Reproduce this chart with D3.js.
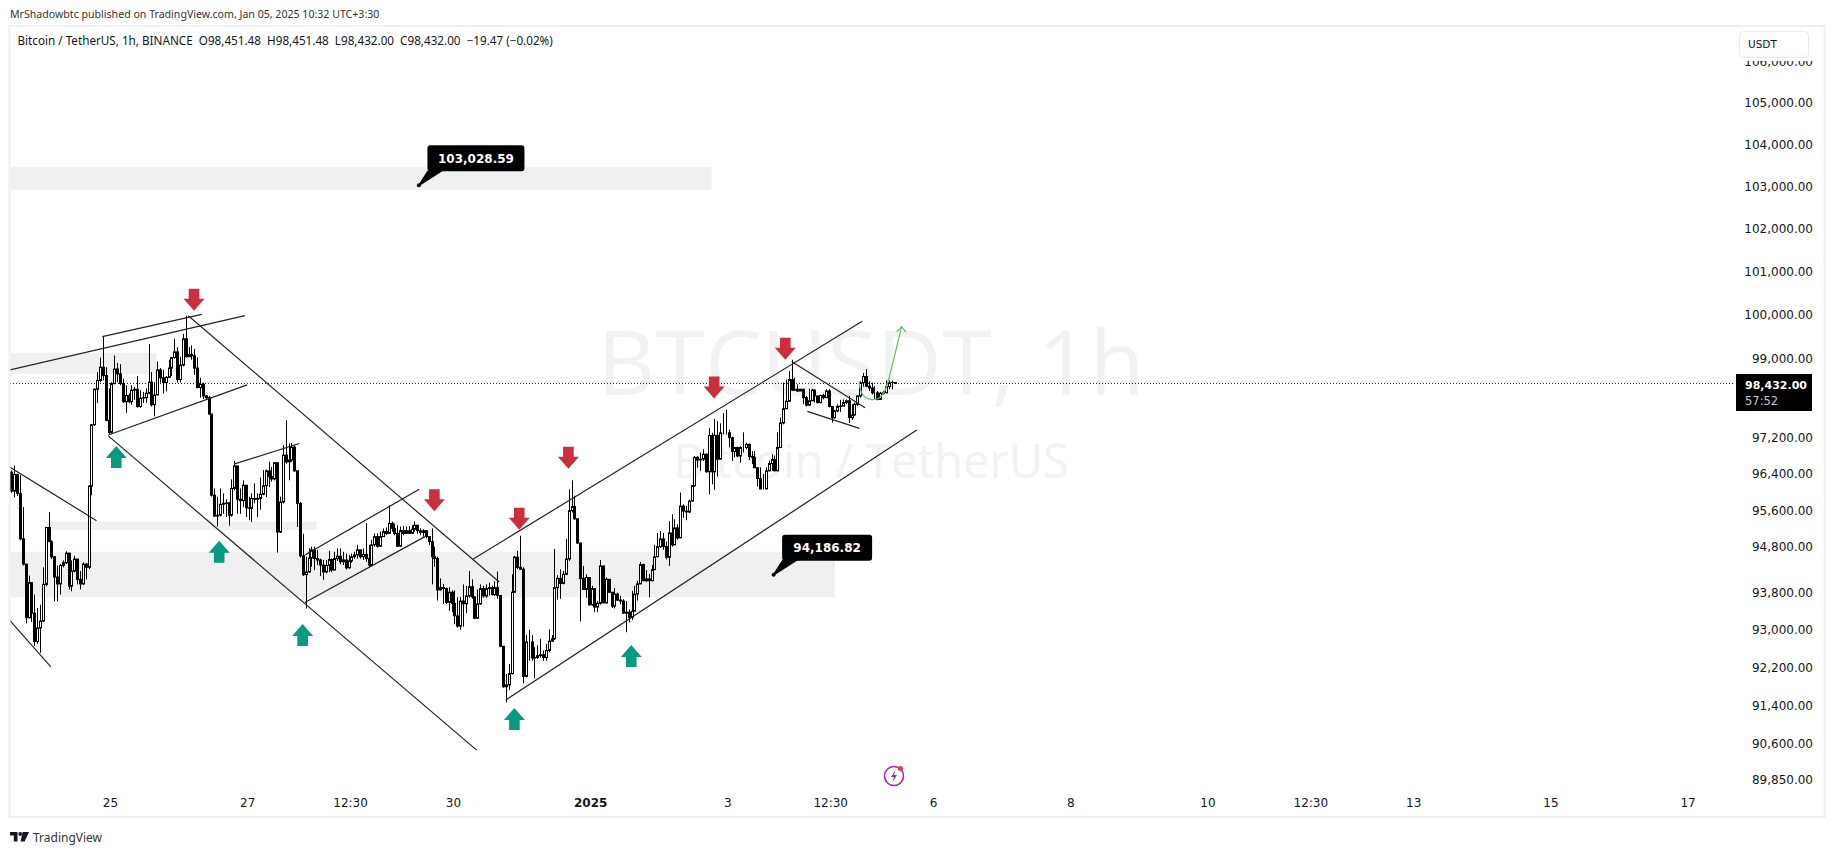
<!DOCTYPE html>
<html>
<head>
<meta charset="utf-8">
<script src="https://cdn.jsdelivr.net/npm/d3@7"></script>
<style>
  body { margin: 0; background: #fff; }
  text { font-family: "DejaVu Sans", sans-serif; fill: #131722; }
</style>
</head>
<body>
<svg id="chart" width="1835" height="855"></svg>
<script>
// Hourly candles, open of each bar is the close of the one before
var firstOpen = 96440;
var closes = [
  96020,96390,95970,94970,94420,93260,94020,93360,92750,93040,
  93190,93980,95220,94910,94580,94140,93990,94390,94450,94660,
  93940,94270,94530,94090,93990,94420,94350,96130,97500,98300,
  98500,98800,98610,97600,97330,98430,98760,98650,98430,98020,
  98160,98020,98280,98300,97910,98100,98110,98210,98460,97950,
  98170,98740,98560,98450,98570,98780,99020,99150,98520,98850,
  99450,99040,99090,99060,98780,98340,98410,98150,98110,97740,
  95930,95470,95490,95730,95750,95760,95490,96080,96580,95840,
  95810,96150,95650,95640,95860,95840,95860,95950,96140,96470,
  96340,96290,96650,95120,95780,96820,96670,96710,97000,96470,
  95750,94600,94190,94250,94550,94730,94540,94510,94400,94250,
  94390,94520,94290,94540,94590,94470,94510,94340,94490,94580,
  94620,94730,94580,94630,94540,94400,94840,95020,94810,95020,
  95130,95090,95310,95200,95090,94810,95150,95090,95150,95090,
  95180,95270,95150,95110,95150,95020,94910,94580,94540,93860,
  93910,93890,93590,93810,93570,93300,93080,93620,93560,93730,
  93930,93710,93250,93560,93890,93730,93890,93910,93760,93910,
  93740,92650,91790,91830,92070,93810,94570,94350,94310,92010,
  92740,92740,92400,92410,92450,92470,92410,92560,92760,92810,
  93910,94110,94000,94200,94530,95590,95680,95410,94880,94110,
  93870,94130,93540,93890,93490,93570,94380,93580,94090,93810,
  93510,93770,93640,93620,93360,93380,93270,93400,93770,93990,
  94410,94060,94100,94060,94300,94580,94800,94970,94800,94570,
  95100,94840,95210,94990,95690,95580,95560,95800,96140,96770,
  96710,96730,96840,96450,97260,96450,97260,96730,97320,97320,
  97320,97210,96900,96990,96800,96990,96990,97060,96790,96770,
  96540,96300,96070,96070,96470,96630,96720,96470,96990,97540,
  97860,98030,98520,98280,98300,98260,98300,98110,97940,98040,
  98280,98150,98000,98160,98110,98260,97910,97660,97810,97910,
  97920,98000,98040,97660,97720,97960,98150,98450,98590,98370,
  98330,98220,98220,98070,98210,98220,98360,98450,98451.48,98432
];
var highs = [
  96480,96590,96410,96370,95670,94420,94170,94020,93760,93470,
  93540,94350,95230,95560,94940,94570,94390,94420,94500,94700,
  94660,94500,94600,94530,94270,94460,94440,96150,97520,98320,
  98690,99020,99490,98800,98320,98460,99070,98900,98870,98540,
  98390,98210,98390,98350,98600,98280,98240,98320,99330,98690,
  98460,98930,98780,98740,98600,98970,99040,99450,99260,99040,
  99560,99980,99260,99300,99220,99020,98560,98450,98170,98150,
  97740,96080,95900,96080,95970,95840,95780,96280,96690,96580,
  96080,96260,96150,95900,95970,96190,95970,96320,96490,96500,
  96670,96560,96660,96650,95900,97040,97600,97080,97090,97040,
  96470,95780,95080,94580,94770,94800,94800,94730,94540,94510,
  94510,94710,94540,94690,94760,94760,94690,94650,94620,94650,
  94690,94840,94730,94760,95310,94840,94950,95090,95090,95130,
  95200,95220,95710,95350,95310,95270,95240,95250,95240,95250,
  95270,95350,95250,95200,95180,95150,94980,95200,94800,94580,
  94110,93990,93910,93920,93850,93850,93700,93710,93980,93950,
  94270,94090,93730,93870,93980,93950,93980,94020,93950,94050,
  94260,93740,92650,92060,92270,94200,94600,94710,95040,94350,
  92890,93000,92890,92630,92670,92810,92560,92700,93010,92890,
  94750,94180,94310,94270,94970,96060,96260,95920,95410,94880,
  94380,94200,94130,93950,93890,93620,94510,94380,94130,94090,
  93800,93900,93800,93730,93660,93620,93440,93840,93950,94060,
  94470,94430,94290,94210,94400,94840,95100,95140,95100,94910,
  95360,95510,95400,95290,95990,95730,95690,95840,96150,96800,
  96800,96880,96950,96860,97430,97320,97630,97580,97530,97760,
  97840,97390,97230,96990,97010,97020,97330,97100,97080,96910,
  96910,96540,96550,96400,96550,96700,96840,96810,97330,97660,
  98450,98520,98710,98970,98560,98410,98310,98310,98150,98310,
  98310,98300,98150,98180,98200,98300,98300,97920,97830,97960,
  98060,98070,98070,98150,97960,98000,98160,98480,98670,98760,
  98480,98450,98370,98260,98240,98260,98500,98500,98500,98451.48
];
var lows = [
  95980,95880,95910,94940,94390,93140,93250,93170,92660,92700,
  92510,93170,93940,94900,94530,93610,93610,93760,94350,94420,
  93870,93830,94240,93980,93870,93970,94090,94310,95930,97470,
  97990,98460,98500,97580,97290,97300,98410,98460,98390,97990,
  97770,97990,97950,98060,97880,97880,97990,97990,98190,97910,
  97690,98170,98450,98200,98250,98560,98600,99000,98450,98450,
  98820,99020,99040,98970,98630,98320,98110,98080,98080,97730,
  95900,95450,95240,95460,95520,95450,95260,95460,96040,95520,
  95520,95670,95450,95380,95340,95750,95450,95610,95930,95890,
  96110,96230,96260,94670,95100,95750,96630,96260,96670,96450,
  95230,94560,94160,93460,94230,94360,94290,94400,94160,94080,
  94220,94250,94250,94290,94490,94420,94400,94300,94320,94450,
  94540,94540,94540,94510,94470,94360,94380,94800,94780,94800,
  95020,95050,95130,95130,95050,94800,94800,95050,95080,95080,
  95090,95130,95080,95050,95020,94980,94840,93980,94360,93630,
  93850,93560,93560,93410,93380,93120,93050,93000,93070,93360,
  93690,93670,93240,93250,93540,93690,93690,93740,93740,93730,
  93670,92630,91770,91460,91720,92050,93800,94310,94300,91860,
  91990,92340,92340,91970,92380,92410,92340,92340,92520,92740,
  92790,93650,93670,93980,94180,94490,95550,95390,94860,93180,
  93860,93690,93520,93520,93380,93380,93540,93570,93570,93800,
  93470,93460,93620,93550,93340,92950,93160,93210,93620,93630,
  93990,94050,94030,93700,94060,94290,94660,94770,94730,94520,
  94380,94800,94840,94950,95400,95430,95380,95540,95800,96120,
  96540,96470,96690,96430,95950,96170,96050,96340,96730,97280,
  97280,96990,96690,96770,96770,96650,96880,96950,96710,96620,
  96530,96120,96060,96060,96070,96460,96470,96460,96510,96990,
  97510,97850,98010,98260,98260,98240,98260,97960,97910,97920,
  98040,98000,97980,97980,98070,98130,97890,97550,97640,97780,
  97790,97920,97960,97540,97610,97700,97920,98110,98360,98350,
  98260,98180,98070,98050,98070,98180,98210,98300,98300,98432
];

// Axis labels (positions are bar numbers, one bar is an hour)
var priceTicks = [106000,105000,104000,103000,102000,101000,100000,99000,97200,96400,95600,94800,93800,93000,92200,91400,90600,89850];
var timeTicks = [34.5,82.5,118.5,154.5,202.5,250.5,286.5,322.5,370.5,418.5,454.5,490.5,538.5,586.5];
var timeLabels = ["25","27","12:30","30","2025","3","12:30","6","8","10","12:30","13","15","17"];
var lastPrice = 98432;

// Drawings: bar number and price at each end
var trendLines = [
  [[-0.5,98740],[81.7,99980]],
  [[31.8,99500],[66.6,100010]],
  [[33.9,97270],[82.5,98400]],
  [[33.9,97250],[162.8,90460]],
  [[61.9,99980],[170.7,94030]],
  [[-0.5,96550],[29.8,95370]],
  [[-0.5,93200],[13.8,92210]],
  [[77.9,96620],[100.7,97080]],
  [[102.7,93590],[144.7,95020]],
  [[102.7,94620],[142.7,96060]],
  [[161.6,94530],[297.7,99850]],
  [[173,91510],[316.8,97380]],
  [[273,98930],[298.7,97880]],
  [[278.5,97800],[296.7,97420]]
];
var zones = [
  [-0.5,50.9,99130,98650],
  [11.8,106.8,95350,95170],
  [-0.5,288.2,94690,93700],
  [-0.5,245,103460,102920]
];
var downArrows = [[63.9,100350],[148,95820],[177.7,95410],[194.9,96760],[245.9,98340],[270.8,99220]];
var upArrows = [[36.7,96780],[72.7,94690],[101.9,92890],[176,91110],[216.9,92440]];
var greenPath = [[296.6,98460],[297.3,98170],[300.4,98060],[303.3,98060],[306,98240],[308.5,98920],[311.5,99730]];
var greenHead = [[309.8,99610],[311.5,99730],[313,99600]];
var priceNotes = [[142.6,103028.59],[266.7,94186.82]];

var svg = d3.select("#chart");
var x = d3.scaleLinear().domain([0, 309]).range([11.4, 894.5]);
var y = d3.scaleLog().domain([105000, 89850]).range([103, 779.5]);

// Frame
svg.append("rect").attr("x", 9.5).attr("y", 26).attr("width", 1815).attr("height", 791)
  .attr("fill", "#fff").attr("stroke", "#eff0f5").attr("stroke-width", 2);

svg.append("defs").append("clipPath").attr("id", "pane")
  .append("rect").attr("x", 10.5).attr("y", 27).attr("width", 1735).attr("height", 760);
var pane = svg.append("g").attr("clip-path", "url(#pane)");

// Watermark
pane.append("text").attr("x", 871).attr("y", 395).attr("text-anchor", "middle")
  .style("font-family", "'Open Sans'").style("font-size", "90px").style("fill", "#f1f2f4")
  .text("BTCUSDT, 1h");
pane.append("text").attr("x", 871).attr("y", 478).attr("text-anchor", "middle")
  .style("font-family", "'Open Sans'").style("font-size", "47px").style("fill", "#f1f2f4")
  .text("Bitcoin / TetherUS");

// Zones
pane.selectAll("rect.zone").data(zones).enter().append("rect")
  .attr("class", "zone")
  .attr("x", d => x(d[0]))
  .attr("width", d => x(d[1]) - x(d[0]))
  .attr("y", d => y(d[2]))
  .attr("height", d => y(d[3]) - y(d[2]))
  .attr("fill", "#f0f0f3");

// Last price line
pane.append("line")
  .attr("x1", 10).attr("x2", 1733)
  .attr("y1", y(lastPrice)).attr("y2", y(lastPrice))
  .attr("stroke", "#131722").attr("stroke-dasharray", "1 2");

// Candles
var bars = closes.map((c, i) => ({
  i: i,
  open: i == 0 ? firstOpen : closes[i - 1],
  close: c,
  high: highs[i],
  low: lows[i]
}));
var candle = pane.selectAll("g.candle").data(bars).enter().append("g").attr("class", "candle");
candle.append("line")
  .attr("x1", d => Math.round(x(d.i)) + 0.5)
  .attr("x2", d => Math.round(x(d.i)) + 0.5)
  .attr("y1", d => y(d.high))
  .attr("y2", d => y(d.low))
  .attr("stroke", "#000");
candle.append("rect")
  .attr("x", d => Math.round(x(d.i)) - 0.5)
  .attr("width", 2)
  .attr("y", d => y(Math.max(d.open, d.close)))
  .attr("height", d => Math.abs(y(d.open) - y(d.close)))
  .attr("fill", d => d.close < d.open ? "#000" : "#fff")
  .attr("stroke", "#000");

// Trend lines
var line = d3.line().x(d => x(d[0])).y(d => y(d[1]));
pane.selectAll("path.trend").data(trendLines).enter().append("path")
  .attr("class", "trend")
  .attr("d", line)
  .attr("fill", "none")
  .attr("stroke", "#222")
  .attr("stroke-width", 1.2);

// Green projection
pane.append("path")
  .attr("d", d3.line().x(d => x(d[0])).y(d => y(d[1])).curve(d3.curveBasis)(greenPath))
  .attr("fill", "none").attr("stroke", "#66bb6a").attr("stroke-width", 1.2);
pane.append("path")
  .attr("d", line(greenHead))
  .attr("fill", "none").attr("stroke", "#66bb6a").attr("stroke-width", 1.2);

// Block arrows
var arrowShape = "M-5.3,-11H5.3V-1H10.5L0,11L-10.5,-1H-5.3Z";
pane.selectAll("path.down").data(downArrows).enter().append("path")
  .attr("class", "down")
  .attr("d", arrowShape)
  .attr("transform", d => `translate(${x(d[0])},${y(d[1])})`)
  .attr("fill", "#cc2f3c");
pane.selectAll("path.up").data(upArrows).enter().append("path")
  .attr("class", "up")
  .attr("d", arrowShape)
  .attr("transform", d => `translate(${x(d[0])},${y(d[1])}) rotate(180)`)
  .attr("fill", "#089981");

// Price notes, box grows with the length of the number
var noteText = d => d3.format(",.2f")(d[1]);
var noteWidth = d => 27 + 7 * noteText(d).length;
var note = pane.selectAll("g.note").data(priceNotes).enter().append("g")
  .attr("class", "note")
  .attr("transform", d => `translate(${x(d[0])},${y(d[1])})`);
note.append("path").attr("d", "M0,0L9,-14H22L0,0Z").attr("fill", "#000").attr("stroke", "#000").attr("stroke-width", 1.5);
note.append("circle").attr("r", 2).attr("fill", "#000");
note.append("rect").attr("x", 8.5).attr("y", -40).attr("width", noteWidth).attr("height", 26).attr("rx", 3).attr("fill", "#000");
note.append("text").attr("x", d => 8.5 + noteWidth(d) / 2).attr("y", -22.5).attr("text-anchor", "middle")
  .style("font-size", "12px").style("font-weight", "bold").style("fill", "#fff")
  .text(noteText);

// Price axis
var yAxis = d3.axisRight(y).tickValues(priceTicks).tickFormat(d3.format(",.2f")).tickSize(0);
var yAxisG = svg.append("g").attr("transform", "translate(1813,0)").call(yAxis);
yAxisG.select(".domain").remove();
yAxisG.selectAll("text").attr("x", 0).attr("text-anchor", "end").style("font-size", "12px");

// USDT button sits over the top tick, which stays cut off below it
svg.append("rect").attr("x", 1735).attr("y", 28).attr("width", 88).attr("height", 33).attr("fill", "#fff");
svg.append("rect").attr("x", 1739.5).attr("y", 31.5).attr("width", 69).attr("height", 26).attr("rx", 4)
  .attr("fill", "#fff").attr("stroke", "#e9eaf0");
svg.append("text").attr("x", 1748).attr("y", 48).style("font-size", "10.5px").text("USDT");

// Last price tag
svg.append("rect").attr("x", 1736).attr("y", 374).attr("width", 76).attr("height", 37).attr("fill", "#000");
svg.append("text").attr("x", 1745).attr("y", 388.5).style("font-size", "11px").style("font-weight", "bold").style("fill", "#fff")
  .text(d3.format(",.2f")(lastPrice));
svg.append("text").attr("x", 1745).attr("y", 404.5).style("font-size", "11.5px").style("fill", "#c8c8c8").text("57:52");

// Time axis
var xAxis = d3.axisBottom(x).tickValues(timeTicks).tickFormat((d, i) => timeLabels[i]).tickSize(0);
var xAxisG = svg.append("g").attr("transform", "translate(0,795)").call(xAxis);
xAxisG.select(".domain").remove();
xAxisG.selectAll("text").attr("y", 3).attr("dy", "0.71em").style("font-size", "12px")
  .style("font-weight", (d, i) => timeLabels[i] == "2025" ? "bold" : "normal");

// Header lines
svg.append("text").attr("x", 10).attr("y", 18).style("font-family", "'Noto Sans'").style("font-size", "10.6px").style("fill", "#333")
  .text("MrShadowbtc published on TradingView.com, Jan 05, 2025 10:32 UTC+3:30");
svg.append("text").attr("x", 17.5).attr("y", 45).style("font-family", "'Noto Sans'").style("font-size", "11.7px").attr("xml:space", "preserve")
  .text("Bitcoin / TetherUS, 1h, BINANCE  O98,451.48  H98,451.48  L98,432.00  C98,432.00  −19.47 (−0.02%)");

// Lightning badge
var badge = svg.append("g").attr("transform", "translate(894,776)");
badge.append("circle").attr("r", 9.5).attr("fill", "none").attr("stroke", "#9c27b0").attr("stroke-width", 1.6);
badge.append("path").attr("d", "M1.5,-6L-3,1H0L-1.5,6L3,-1H0Z").attr("fill", "#9c27b0");
badge.append("circle").attr("cx", 6.5).attr("cy", -7.5).attr("r", 2.6).attr("fill", "#f23645");

// TradingView logo
var logo = svg.append("g").attr("transform", "translate(10,832)");
logo.append("path").attr("d", "M0,0H7.5V9.5H3.8V3.6H0Z M12.6,0H19L14.6,9.5H10.6Z").attr("fill", "#131722");
logo.append("circle").attr("cx", 10.2).attr("cy", 2).attr("r", 1.9).attr("fill", "#131722");
svg.append("text").attr("x", 33).attr("y", 842).style("font-family", "'Noto Sans'").style("font-size", "12px").style("fill", "#333").text("TradingView");
</script>
</body>
</html>
